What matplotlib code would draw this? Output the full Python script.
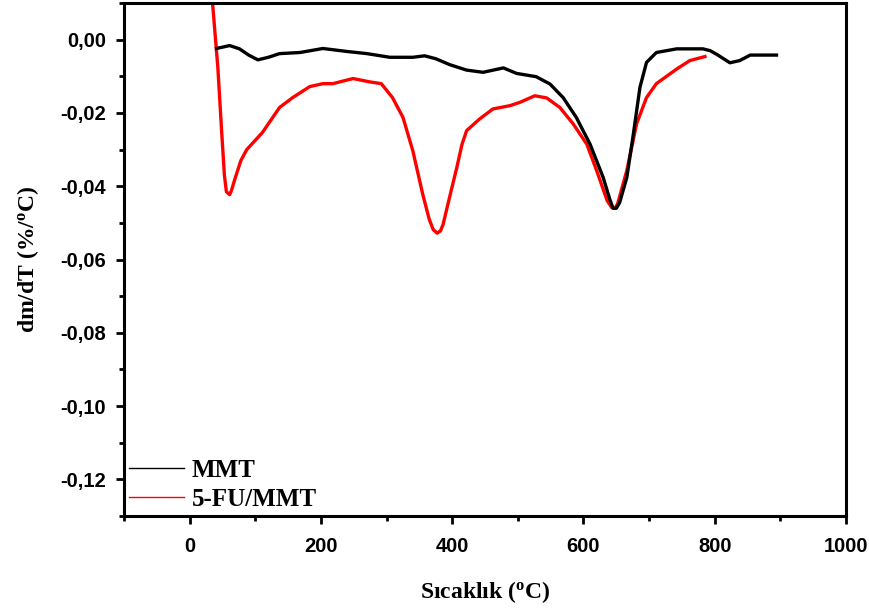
import numpy as np
import matplotlib
matplotlib.use("Agg")
import matplotlib.pyplot as plt
from matplotlib.ticker import MultipleLocator, FuncFormatter
from matplotlib.lines import Line2D

plt.rcParams["mathtext.fontset"] = "custom"
plt.rcParams["mathtext.rm"] = "Liberation Serif:bold"
plt.rcParams["mathtext.bf"] = "Liberation Serif:bold"
plt.rcParams["mathtext.it"] = "Liberation Serif:bold"

# MMT curve (temperature in C, dm/dT in %/C)
mmt_t = [41, 61, 76, 90, 104, 120, 137, 168, 203, 239, 270, 305, 340, 358, 375,
         396, 422, 447, 478, 498, 528, 549, 569, 589, 610, 630, 640, 645, 650,
         655, 666, 676, 686, 696, 711, 742, 782, 793, 803, 823, 838, 854, 894]
mmt_d = [-0.0024, -0.0016, -0.0025, -0.0042, -0.0055, -0.0048, -0.0038, -0.0035,
         -0.0024, -0.0032, -0.0038, -0.0048, -0.0048, -0.0044, -0.0052, -0.0068,
         -0.0083, -0.0089, -0.0077, -0.0092, -0.0101, -0.0121, -0.0158, -0.0212,
         -0.0285, -0.0376, -0.0435, -0.0460, -0.0460, -0.0445, -0.0376, -0.0257,
         -0.0130, -0.0062, -0.0035, -0.0025, -0.0025, -0.0030, -0.0040, -0.0063,
         -0.0057, -0.0042, -0.0042]

# 5-FU/MMT curve
fu_t = [33, 35, 43, 49, 53, 56, 61, 64, 69, 78, 87, 111, 137, 157, 183, 203, 218,
        249, 274, 292, 309, 325, 340, 355, 365, 371, 377, 382, 386, 396, 407,
        415, 422, 442, 462, 488, 503, 526, 544, 564, 584, 605, 620, 636, 643,
        648, 652, 666, 681, 696, 711, 742, 762, 785]
fu_d = [0.0130, 0.0098, -0.0076, -0.0257, -0.0370, -0.0415, -0.0423, -0.0410,
        -0.0380, -0.0330, -0.0300, -0.0253, -0.0185, -0.0158, -0.0128, -0.0120,
        -0.0120, -0.0106, -0.0115, -0.0120, -0.0158, -0.0212, -0.0303, -0.0421,
        -0.0490, -0.0518, -0.0528, -0.0522, -0.0505, -0.0430, -0.0349, -0.0285,
        -0.0248, -0.0216, -0.0189, -0.0180, -0.0171, -0.0153, -0.0159, -0.0185,
        -0.0229, -0.0285, -0.0357, -0.0439, -0.0458, -0.0460, -0.0448, -0.0357,
        -0.0229, -0.0158, -0.0120, -0.0080, -0.0057, -0.0046]

fig = plt.figure(figsize=(8.7, 6.1), dpi=100)
ax = fig.add_axes([0.1425, 0.154, 0.83, 0.841])

ax.plot(fu_t, fu_d, color="#ff0000", lw=2.4, solid_joinstyle="round")
ax.plot(mmt_t, mmt_d, color="black", lw=2.4, solid_joinstyle="round")

ax.set_xlim(-100, 1000)
ax.set_ylim(-0.13, 0.01)

ax.xaxis.set_major_locator(MultipleLocator(200))
ax.xaxis.set_minor_locator(MultipleLocator(100))
ax.yaxis.set_major_locator(MultipleLocator(0.02))
ax.yaxis.set_minor_locator(MultipleLocator(0.01))

def comma_fmt(v, pos):
    s = "{:.2f}".format(v).replace(".", ",")
    if s == "-0,00":
        s = "0,00"
    return s

ax.yaxis.set_major_formatter(FuncFormatter(comma_fmt))
ax.xaxis.set_major_formatter(FuncFormatter(lambda v, p: "{:d}".format(int(round(v)))))

for s in ax.spines.values():
    s.set_linewidth(2.2)
ax.tick_params(which="major", direction="out", length=6, width=2, labelsize=14.5)
ax.tick_params(axis="x", which="major", pad=9)
ax.tick_params(axis="y", which="major", pad=7)
ax.tick_params(which="minor", direction="out", length=3.5, width=2)
for lab in ax.get_xticklabels() + ax.get_yticklabels():
    lab.set_fontweight("bold")
    lab.set_fontfamily("Liberation Sans")

ax.set_xlabel("Sıcaklık ($^{o}$C)", fontsize=17, fontweight="bold",
              family="Liberation Serif", labelpad=17)
ax.set_ylabel("dm/dT (%/$^{o}$C)", fontsize=17, fontweight="bold",
              family="Liberation Serif", labelpad=14)

handles = [Line2D([], [], color="black", lw=1), Line2D([], [], color="#ff0000", lw=1)]
leg = ax.legend(handles, ["MMT", "5-FU/MMT"], loc="lower left", frameon=False,
                handlelength=2.2, handletextpad=0.3, borderaxespad=0.05,
                borderpad=0.15, labelspacing=0.25,
                prop={"family": "Liberation Serif", "weight": "bold", "size": 18})

fig.savefig("out.png", dpi=100)
